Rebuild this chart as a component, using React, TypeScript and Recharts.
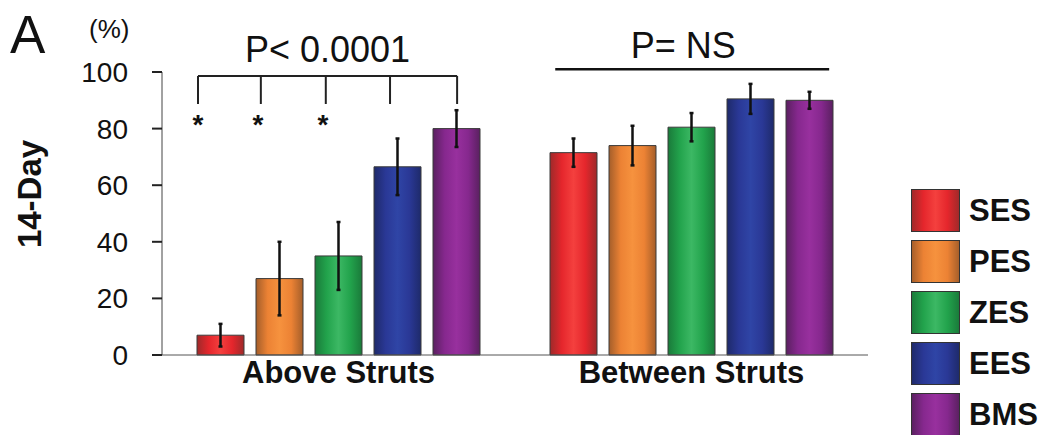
import React from 'react'
import {
  BarChart,
  Bar,
  XAxis,
  YAxis,
  ErrorBar,
  Legend,
  ReferenceLine,
  ReferenceDot,
} from 'recharts'

const categories = ['Above Struts', 'Between Struts']
const seriesNames = ['SES', 'PES', 'ZES', 'EES', 'BMS']

const sesValues = [7, 71.5]
const sesErrors = [4, 5]
const pesValues = [27, 74]
const pesErrors = [13, 7]
const zesValues = [35, 80.5]
const zesErrors = [12, 5]
const eesValues = [66.5, 90.5]
const eesErrors = [10, 5.3]
const bmsValues = [80, 90]
const bmsErrors = [6.5, 3]

const yTicks = [0, 20, 40, 60, 80, 100]

// annotation positions as a fraction of the plot width (hidden 0..1 axis)
const bracketLegs = [0.051, 0.14, 0.232, 0.323, 0.418]
const starPositions = [0.051, 0.136, 0.228]
const nsLine = [0.557, 0.945]

const values = [sesValues, pesValues, zesValues, eesValues, bmsValues]
const errors = [sesErrors, pesErrors, zesErrors, eesErrors, bmsErrors]

const data = categories.map((group, i) => {
  const row: Record<string, string | number> = { group }
  seriesNames.forEach((name, s) => {
    row[name] = values[s][i]
    row[name + 'err'] = errors[s][i]
  })
  return row
})

const palette: Record<string, { edge: string; base: string; mid: string }> = {
  SES: { edge: '#9e2a2a', base: '#e5262c', mid: '#f4403e' },
  PES: { edge: '#a45e2a', base: '#ec8234', mid: '#f6923e' },
  ZES: { edge: '#1a7a3a', base: '#22a34c', mid: '#3cb864' },
  EES: { edge: '#1e2a6a', base: '#2a3896', mid: '#2f45a6' },
  BMS: { edge: '#5a2060', base: '#86288e', mid: '#98309e' },
}

const font = '"Liberation Sans", Arial, sans-serif'

function Gradients() {
  return (
    <defs>
      {seriesNames.map((name) => (
        <linearGradient key={name} id={'grad' + name} x1="0" y1="0" x2="1" y2="0">
          <stop offset="0%" stopColor={palette[name].edge} />
          <stop offset="25%" stopColor={palette[name].base} />
          <stop offset="50%" stopColor={palette[name].mid} />
          <stop offset="75%" stopColor={palette[name].base} />
          <stop offset="100%" stopColor={palette[name].edge} />
        </linearGradient>
      ))}
    </defs>
  )
}

const LegendContent = (props: any) => {
  const items = [...(props.payload || [])].sort(
    (a: any, b: any) => seriesNames.indexOf(a.value) - seriesNames.indexOf(b.value)
  )
  return (
    <div style={{ fontFamily: font }}>
      {items.map((item: any) => (
        <div key={item.value} style={{ display: 'flex', alignItems: 'center', height: 51 }}>
          <svg width={50} height={44} style={{ display: 'block' }}>
            <rect x={0.5} y={0.5} width={48} height={42} fill={'url(#grad' + item.value + ')'} stroke="#333" />
          </svg>
          <span style={{ marginLeft: 8, fontSize: 31, fontWeight: 'bold', color: '#111' }}>{item.value}</span>
        </div>
      ))}
    </div>
  )
}

export default function App() {
  return (
    <div style={{ position: 'relative', width: 1041, height: 435, background: '#fff', fontFamily: font }}>
      <style>{'body{margin:0}'}</style>
      <div style={{ position: 'absolute', left: 10, top: 8, fontSize: 53, color: '#111', lineHeight: 1 }}>A</div>
      <div style={{ position: 'absolute', left: 89, top: 16, fontSize: 26, color: '#111', lineHeight: 1 }}>(%)</div>
      <div
        style={{
          position: 'absolute',
          left: 29,
          top: 194,
          fontSize: 33,
          fontWeight: 'bold',
          color: '#111',
          lineHeight: 1,
          whiteSpace: 'nowrap',
          transform: 'translate(-50%, -50%) rotate(-90deg)',
        }}
      >
        14-Day
      </div>
      <BarChart
        width={1041}
        height={435}
        data={data}
        margin={{ top: 72, right: 173, bottom: 50, left: 102 }}
        barSize={47}
        barGap={12}
        style={{ position: 'absolute', left: 0, top: 0 }}
      >
        <Gradients />
        <XAxis
          dataKey="group"
          height={30}
          tickLine={false}
          tickMargin={0}
          axisLine={{ stroke: '#555', strokeWidth: 1 }}
          tick={{ fill: '#111', fontSize: 31, fontWeight: 'bold', fontFamily: font }}
        />
        <XAxis xAxisId="num" type="number" domain={[0, 1]} allowDataOverflow hide />
        <YAxis
          width={60}
          domain={[0, 100]}
          ticks={yTicks}
          tickSize={10}
          tickMargin={24}
          axisLine={{ stroke: '#444' }}
          tickLine={{ stroke: '#222', strokeWidth: 2 }}
          tick={{ fill: '#111', fontSize: 28, fontFamily: font }}
        />
        <Legend
          layout="vertical"
          align="center"
          verticalAlign="middle"
          content={<LegendContent />}
          wrapperStyle={{ left: 911, top: 185, width: 130 }}
        />
        {seriesNames.map((name) => (
          <Bar
            key={name}
            dataKey={name}
            fill={'url(#grad' + name + ')'}
            stroke="#3a3a3a"
            strokeWidth={1}
            isAnimationActive={false}
          >
            <ErrorBar dataKey={name + 'err'} width={2} stroke="#111" strokeWidth={2.5} />
          </Bar>
        ))}
        <ReferenceLine
          xAxisId="num"
          segment={[
            { x: bracketLegs[0], y: 98.6 },
            { x: bracketLegs[bracketLegs.length - 1], y: 98.6 },
          ]}
          stroke="#222"
          strokeWidth={2}
          ifOverflow="visible"
          label={{ value: 'P< 0.0001', position: 'top', offset: 14, fontSize: 36, fill: '#111', fontFamily: font }}
        />
        {bracketLegs.map((x) => (
          <ReferenceLine
            key={x}
            xAxisId="num"
            segment={[
              { x, y: 98.6 },
              { x, y: 88.7 },
            ]}
            stroke="#222"
            strokeWidth={2}
            ifOverflow="visible"
          />
        ))}
        {starPositions.map((x) => (
          <ReferenceDot
            key={x}
            xAxisId="num"
            x={x}
            y={81.5}
            r={0}
            fill="none"
            stroke="none"
            ifOverflow="visible"
            label={{ value: '*', position: 'center', fontSize: 28, fontWeight: 'bold', fill: '#111', fontFamily: font }}
          />
        ))}
        <ReferenceLine
          xAxisId="num"
          segment={[
            { x: nsLine[0], y: 101 },
            { x: nsLine[1], y: 101 },
          ]}
          stroke="#111"
          strokeWidth={2.5}
          ifOverflow="visible"
          label={{ value: 'P= NS', position: 'top', offset: 11, fontSize: 36, fill: '#111', fontFamily: font, dx: -9 }}
        />
      </BarChart>
    </div>
  )
}
